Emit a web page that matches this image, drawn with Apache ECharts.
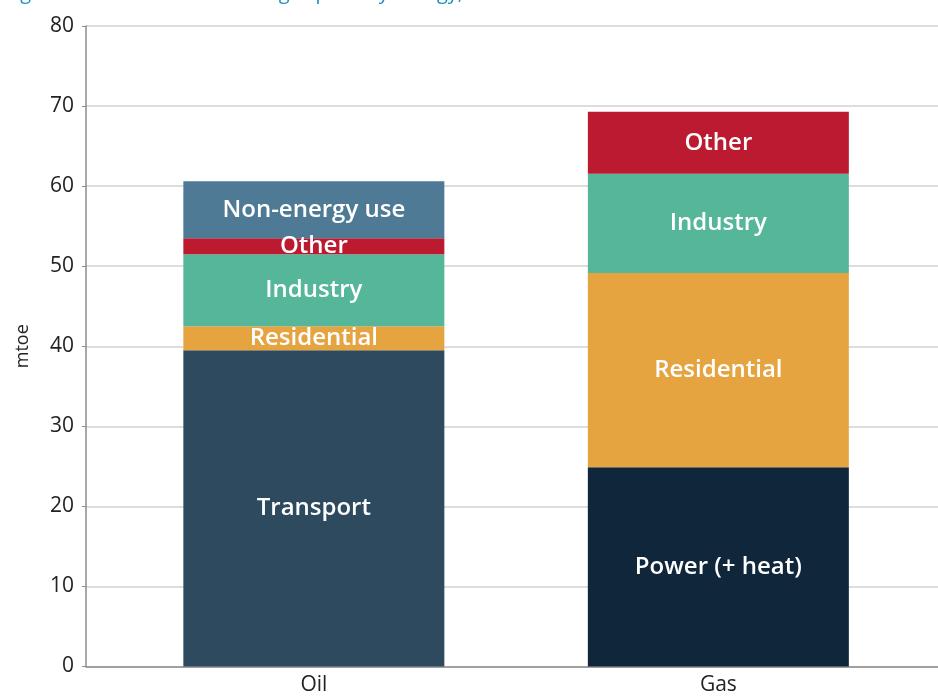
<!DOCTYPE html>
<html>
<head>
<meta charset="utf-8">
<script src="https://cdn.jsdelivr.net/npm/echarts@6/dist/echarts.min.js"></script>
<style>
  html, body { margin: 0; padding: 0; background: #fff; }
  #chart { width: 938px; height: 696px; }
</style>
</head>
<body>
<div id="chart"></div>
<script>
// fuels on the x axis
const categories = ['Oil', 'Gas'];
// mtoe per sector, '-' where a sector has no slice
const transport = [39.5, '-'];
const power = ['-', 24.9];
const residential = [3.0, 24.25];
const industry = [9.0, 12.4];
const other = [2.0, 7.75];
const nonEnergy = [7.1, '-'];
const yTicks = [0, 80, 10]; // min, max, interval

const font = '"Open Sans", "Noto Sans", sans-serif';

function seg(name, data, color) {
  return {
    name: name,
    type: 'bar',
    stack: 'total',
    xAxisIndex: 1,
    yAxisIndex: 1,
    barWidth: 261,
    data: data,
    itemStyle: { color: color },
    label: {
      show: true,
      position: 'inside',
      formatter: name,
      color: '#fff',
      fontFamily: font,
      fontWeight: 600,
      fontSize: 24
    },
    emphasis: { disabled: true }
  };
}

const chart = echarts.init(document.getElementById('chart'));
chart.setOption({
  animation: false,
  title: {
    text: 'Figure 3: Final uses of oil and gas primary energy, 2019',
    left: 0,
    top: -22,
    textStyle: { color: '#1f90c0', fontFamily: font, fontWeight: 'normal', fontSize: 20 }
  },
  grid: [
    { left: 86, right: 0, top: 26, bottom: 29.5 },
    { left: 111.6, right: 17.4, top: 26, bottom: 29.5 }
  ],
  xAxis: [
    {
      type: 'category', gridIndex: 0, data: categories,
      axisLine: { lineStyle: { color: '#8c8c8c', width: 1.5 } },
      axisTick: { show: false },
      axisLabel: { show: false }
    },
    {
      type: 'category', gridIndex: 1, data: categories,
      axisLine: { show: false },
      axisTick: { show: false },
      axisLabel: { color: '#222', fontFamily: font, fontSize: 21, margin: 8 }
    }
  ],
  yAxis: [
    {
      type: 'value', gridIndex: 0,
      min: yTicks[0], max: yTicks[1], interval: yTicks[2],
      name: 'mtoe', nameLocation: 'middle', nameGap: 54, nameRotate: 90,
      nameTextStyle: { color: '#222', fontFamily: font, fontSize: 18 },
      axisLine: { show: true, lineStyle: { color: '#8c8c8c', width: 1.5 } },
      axisTick: { show: true, length: 4, lineStyle: { color: '#8c8c8c' } },
      axisLabel: { color: '#222', fontFamily: font, fontSize: 21, margin: 12 },
      splitLine: { lineStyle: { color: '#d2d2d2', width: 1.5 } }
    },
    {
      type: 'value', gridIndex: 1,
      min: yTicks[0], max: yTicks[1], interval: yTicks[2],
      show: false
    }
  ],
  series: [
    seg('Transport', transport, '#2e4a5e'),
    seg('Power (+ heat)', power, '#10263a'),
    seg('Residential', residential, '#e5a43f'),
    seg('Industry', industry, '#55b699'),
    seg('Other', other, '#bb1a30'),
    seg('Non-energy use', nonEnergy, '#4e7a96')
  ]
});
</script>
</body>
</html>
